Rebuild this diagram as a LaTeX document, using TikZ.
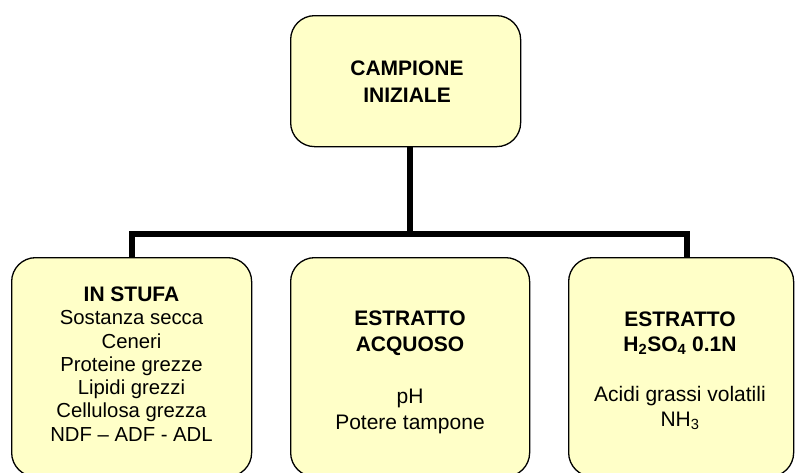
\documentclass[tikz,border=0pt]{standalone}
\usepackage{fontspec}
\setmainfont{Liberation Sans}
\definecolor{boxfill}{HTML}{FFFFC8}
\tikzset{
  boxnode/.style={draw=black, line width=1.3pt, fill=boxfill, rounded corners=24pt,
    inner sep=0pt, minimum width=#1, anchor=north west},
  lbl/.style={align=center, inner sep=0pt, font=\fontsize{21}{26}\selectfont},
  lblsmall/.style={align=center, inner sep=0pt, font=\fontsize{20.3}{23.33}\selectfont},
  conn/.style={line width=6pt, line join=miter, draw=black}
}
\begin{document}
\begin{tikzpicture}[x=1pt,y=-1pt]
\clip (0,0) rectangle (795,472);
\fill[white] (0,0) rectangle (795,472);
% boxes
\node[boxnode=230pt, minimum height=131pt] (top) at (290,15) {};
\node[boxnode=240pt, minimum height=219pt] (left) at (11,257) {};
\node[boxnode=239pt, minimum height=219pt] (mid) at (290,257) {};
\node[boxnode=225pt, minimum height=219pt] (right) at (568,257) {};
% connectors
\coordinate (j) at (409.5,234);
\coordinate (lj) at (131.7,234);
\coordinate (rj) at (687,234);
\draw[conn] (top.south -| j) -- (j);
\draw[conn] (lj |- left.north) -- (lj) -- (rj) -- (rj |- right.north);
% texts
\node[lbl, font=\fontsize{21}{26.5}\selectfont\bfseries] (ttop) at (407,81.5) {CAMPIONE\\INIZIALE};
\node[lblsmall] (tleft) at (131.5,364) {\textbf{\fontsize{21}{23.33}\selectfont IN STUFA}\\Sostanza secca\\Ceneri\\Proteine grezze\\Lipidi grezzi\\Cellulosa grezza\\NDF – ADF - ADL};
\node[lbl] (tmid) at (410,372) {\textbf{ESTRATTO}\\\textbf{ACQUOSO}\\[26pt]pH\\Potere tampone};
\node[lbl, font=\fontsize{21}{25}\selectfont] (tright) at (680,371) {\textbf{ESTRATTO}\\\textbf{H\textsubscript{2}SO\textsubscript{4} 0.1N}\\[25pt]Acidi grassi volatili\\NH\textsubscript{3}};
\end{tikzpicture}
\end{document}
